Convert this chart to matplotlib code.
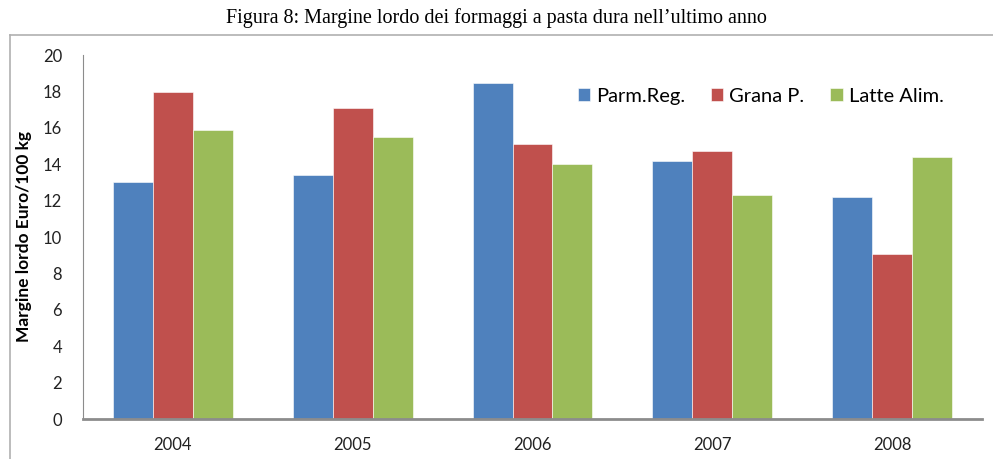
import numpy as np
import matplotlib.pyplot as plt
from matplotlib.lines import Line2D

years = ["2004", "2005", "2006", "2007", "2008"]
parm_reg = [13.0, 13.4, 18.45, 14.15, 12.2]
grana_p = [17.95, 17.1, 15.1, 14.7, 9.08]
latte_alim = [15.9, 15.5, 14.0, 12.3, 14.38]
series = [("Parm.Reg.", parm_reg, "#4F81BD"),
          ("Grana P.", grana_p, "#C0504D"),
          ("Latte Alim.", latte_alim, "#9BBB59")]

plt.rcParams['font.family'] = ['Lato', 'DejaVu Sans']

fig = plt.figure(figsize=(9.93, 4.59), dpi=100)
ax = fig.add_axes([83/993, 40/459, 899/993, 364/459])

x = np.arange(len(years))
w = 0.222
for i, (name, vals, col) in enumerate(series):
    ax.bar(x + (i - 1) * w, vals, width=w, color=col, label=name,
           edgecolor="white", linewidth=0.4)

ax.set_xlim(-0.5, len(years) - 0.5)
ax.set_ylim(0, 20)
ax.set_yticks(range(0, 21, 2))
ax.set_xticks(x)
ax.set_xticklabels(years)
ax.tick_params(length=0, labelsize=12, colors="#222222")
ax.tick_params(axis="x", pad=13)
ax.tick_params(axis="y", pad=15)
for s in ["top", "right"]:
    ax.spines[s].set_visible(False)
ax.spines["left"].set_color("#8c8c8c")
ax.spines["bottom"].set_color("#8c8c8c")
ax.spines["bottom"].set_linewidth(2)
ax.set_ylabel("Margine lordo Euro/100 kg", fontsize=12.5, fontweight="bold", labelpad=8)

ax.legend(loc="upper left", bbox_to_anchor=(0.53, 0.96), ncol=3, frameon=False,
          fontsize=14.5, handlelength=0.6, handleheight=0.6, handletextpad=0.3,
          columnspacing=1.3)

# outer frame (left and top lines)
fig.add_artist(Line2D([10/993, 10/993], [0, 1 - 35/459], color="#b0b0b0", lw=1.2,
                      transform=fig.transFigure))
fig.add_artist(Line2D([10/993, 1], [1 - 35/459, 1 - 35/459], color="#b0b0b0", lw=1.2,
                      transform=fig.transFigure))

fig.text(0.5, 1 - 18/459, "Figura 8: Margine lordo dei formaggi a pasta dura nell\u2019ultimo anno",
         ha="center", va="center", fontsize=14.5, family="Liberation Serif")

plt.savefig("out.png", dpi=100)
